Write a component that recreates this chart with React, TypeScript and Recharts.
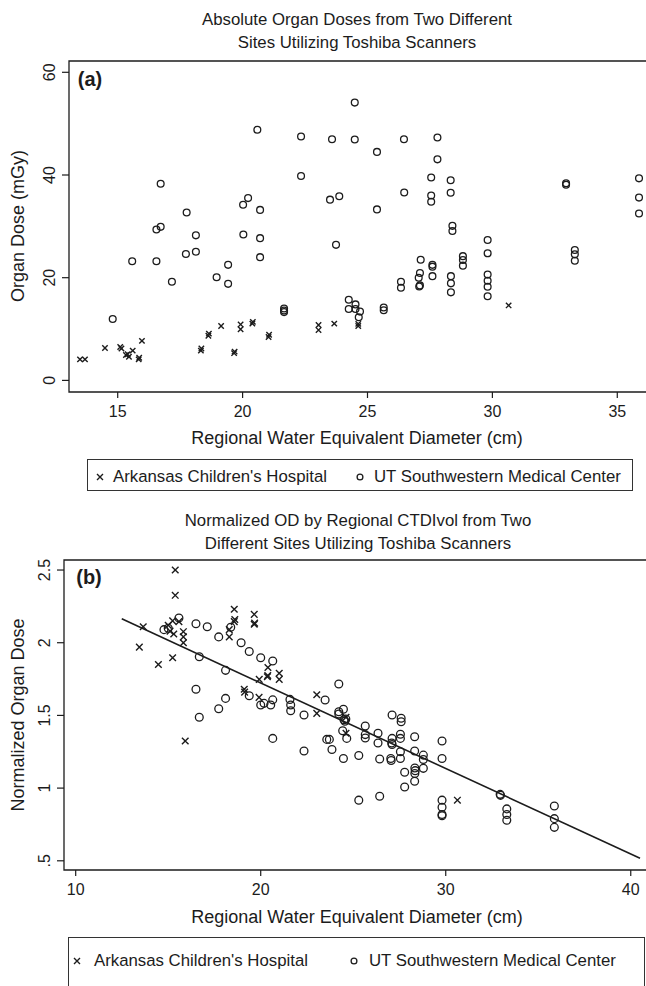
import React from 'react';
import { ScatterChart, Scatter, XAxis, YAxis, ReferenceArea } from 'recharts';

const FONT = '"Liberation Sans", Arial, Helvetica, sans-serif';
const INK = '#1c1c1c';

// ---------- Panel (a) ----------
const titleA = ['Absolute Organ Doses from Two Different', 'Sites Utilizing Toshiba Scanners'];
const xTitle = 'Regional Water Equivalent Diameter (cm)';
const yTitleA = 'Organ Dose (mGy)';
const xTicksA = [15, 20, 25, 30, 35];
const yTicksA = [0, 20, 40, 60];
const yTickLabelsA = ['0', '20', '40', '60'];
const xDomainA: [number, number] = [13.05, 36.31];
const yDomainA: [number, number] = [-2.26, 62.2];

const seriesNames = ["Arkansas Children's Hospital", 'UT Southwestern Medical Center'];

const arkansasA: [number, number][] = [
  [13.49, 4.1], [13.69, 4.1], [14.49, 6.3], [15.1, 6.5], [15.15, 6.2], [15.33, 4.95], [15.4, 5.1],
  [15.45, 4.6], [15.6, 5.8], [15.84, 4.1], [15.86, 4.4], [15.97, 7.7], [18.33, 5.8], [18.35, 6.2],
  [18.63, 8.7], [18.65, 9.1], [19.14, 10.6], [19.66, 5.3], [19.68, 5.6], [19.92, 10.9], [19.92, 9.95],
  [20.39, 11.05], [20.41, 11.4], [21.04, 8.45], [21.06, 8.9], [23.04, 10.8], [23.04, 9.8],
  [23.67, 11.05], [24.63, 11.0], [24.63, 10.6], [30.65, 14.6],
];

const utswA: [number, number][] = [
  [14.8, 11.95], [15.58, 23.2], [16.55, 23.2], [16.55, 29.4], [16.72, 29.9], [16.72, 38.3],
  [17.17, 19.2], [17.73, 24.6], [17.76, 32.7], [18.13, 25.05], [18.13, 28.25], [18.96, 20.1],
  [19.42, 22.5], [19.42, 18.8], [20.02, 34.2], [20.22, 35.5], [20.03, 28.4], [20.59, 48.8],
  [20.7, 33.2], [20.7, 27.7], [20.7, 24.0], [21.66, 14.0], [21.66, 13.6], [21.66, 13.3],
  [22.34, 47.5], [22.34, 39.8], [23.5, 35.2], [23.58, 46.95], [23.74, 26.4], [23.87, 35.85],
  [24.25, 15.7], [24.25, 13.9], [24.49, 54.1], [24.49, 46.9], [24.52, 14.8], [24.52, 13.9],
  [24.7, 13.4], [24.65, 12.3], [25.38, 44.5], [25.38, 33.3], [25.65, 14.2], [25.65, 13.65],
  [26.34, 19.2], [26.34, 18.05], [26.46, 46.95], [26.47, 36.6], [27.07, 18.3], [27.1, 18.5],
  [27.05, 20.0], [27.1, 20.9], [27.13, 23.5], [27.55, 39.5], [27.55, 36.0], [27.55, 34.8],
  [27.6, 22.5], [27.6, 22.15], [27.6, 20.3], [27.8, 47.3], [27.8, 43.05], [28.33, 38.97],
  [28.33, 36.55], [28.34, 20.3], [28.34, 18.9], [28.34, 17.15], [28.4, 30.1], [28.4, 29.1],
  [28.82, 24.2], [28.82, 23.45], [28.82, 22.35], [29.81, 27.35], [29.81, 24.75], [29.81, 20.6],
  [29.81, 19.4], [29.81, 18.25], [29.81, 16.4], [32.95, 38.4], [32.95, 38.1], [33.3, 25.4],
  [33.3, 24.55], [33.3, 23.3], [35.87, 39.35], [35.87, 35.6], [35.87, 32.5],
];

// ---------- Panel (b) ----------
const titleB = ['Normalized OD by Regional CTDIvol from Two', 'Different Sites Utilizing Toshiba Scanners'];
const yTitleB = 'Normalized Organ Dose';
const xTicksB = [10, 20, 30, 40];
const yTicksB = [0.5, 1, 1.5, 2, 2.5];
const yTickLabelsB = ['.5', '1', '1.5', '2', '2.5'];
const xDomainB: [number, number] = [9.368, 41.04];
const yDomainB: [number, number] = [0.4367, 2.569];

const arkansasB: [number, number][] = [
  [13.44, 1.97], [13.65, 2.11], [14.47, 1.85], [15.0, 2.12], [15.1, 2.08], [15.24, 2.15],
  [15.24, 1.897], [15.3, 2.06], [15.38, 2.5], [15.38, 2.326], [15.58, 2.145], [15.82, 2.076],
  [15.82, 2.04], [15.82, 2.0], [15.92, 1.324], [18.3, 2.09], [18.3, 2.04], [18.57, 2.23],
  [18.57, 2.145], [18.6, 2.16], [19.11, 1.68], [19.13, 1.66], [19.65, 2.195], [19.65, 2.127],
  [19.67, 2.135], [19.91, 1.624], [19.92, 1.748], [20.36, 1.766], [20.38, 1.775], [20.39, 1.83],
  [21.0, 1.79], [21.0, 1.748], [23.03, 1.642], [23.03, 1.514], [24.61, 1.487], [24.61, 1.377],
  [30.63, 0.917],
];

const utswB: [number, number][] = [
  [14.77, 2.09], [15.0, 2.1], [15.58, 2.17], [16.5, 2.13], [16.5, 1.68], [16.68, 1.904],
  [16.68, 1.487], [17.11, 2.11], [17.73, 2.04], [17.73, 1.546], [18.1, 1.81], [18.1, 1.617],
  [18.38, 2.106], [18.94, 2.0], [19.38, 1.94], [19.38, 1.635], [20.0, 1.897], [20.0, 1.572],
  [20.18, 1.583], [20.54, 1.572], [20.65, 1.874], [20.65, 1.607], [20.65, 1.342], [21.58, 1.61],
  [21.62, 1.572], [21.62, 1.532], [22.34, 1.503], [22.34, 1.255], [23.48, 1.606], [23.57, 1.335],
  [23.71, 1.335], [23.85, 1.266], [24.22, 1.716], [24.22, 1.525], [24.22, 1.51], [24.47, 1.542],
  [24.5, 1.47], [24.55, 1.46], [24.6, 1.475], [24.43, 1.395], [24.65, 1.342], [24.47, 1.204],
  [25.3, 1.224], [25.3, 0.917], [25.65, 1.427], [25.65, 1.368], [25.65, 1.345], [26.34, 1.377],
  [26.34, 1.31], [26.43, 1.2], [26.43, 0.944], [27.1, 1.503], [27.1, 1.342], [27.08, 1.31],
  [27.1, 1.3], [27.03, 1.204], [27.05, 1.19], [27.59, 1.48], [27.59, 1.456], [27.55, 1.37],
  [27.55, 1.342], [27.55, 1.25], [27.55, 1.204], [27.78, 1.109], [27.78, 1.008], [28.32, 1.353],
  [28.32, 1.255], [28.33, 1.138], [28.35, 1.12], [28.33, 1.1], [28.32, 1.047], [28.79, 1.227],
  [28.79, 1.197], [28.79, 1.136], [29.8, 1.324], [29.8, 1.204], [29.8, 0.917], [29.8, 0.868],
  [29.8, 0.818], [29.8, 0.81], [32.94, 0.957], [32.96, 0.95], [33.3, 0.857], [33.3, 0.818],
  [33.3, 0.779], [35.87, 0.877], [35.87, 0.79], [35.87, 0.73],
];

// fitted regression line end points
const fitLineB: [number, number][] = [[12.49, 2.165], [40.5, 0.517]];

const toPts = (arr: [number, number][]) => arr.map(([x, y]) => ({ x, y }));

const circleShape = (r: number) => (p: any) =>
  <circle cx={p.cx} cy={p.cy} r={r} fill="none" stroke={INK} strokeWidth={1.3} />;
const crossShape = (s: number) => (p: any) =>
  <path d={`M${p.cx - s},${p.cy - s}L${p.cx + s},${p.cy + s}M${p.cx - s},${p.cy + s}L${p.cx + s},${p.cy - s}`}
    stroke={INK} strokeWidth={1.4} fill="none" />;

const makeYTick = (cx: number, ticks: number[], labels: string[]) => (p: any) => {
  const i = ticks.indexOf(p.payload.value);
  return (
    <text x={cx} y={p.y} transform={`rotate(-90 ${cx} ${p.y})`} textAnchor="middle"
      dominantBaseline="central" fontSize={16} fill={INK} fontFamily={FONT}>
      {i >= 0 ? labels[i] : String(p.payload.value)}
    </text>
  );
};

const Txt = ({ cx, cy, size, children, bold, width = 600, rotate }: any) => (
  <div style={{
    position: 'absolute', left: cx - width / 2, top: cy - size / 2, width, height: size,
    lineHeight: `${size}px`, fontSize: size, fontFamily: FONT, color: INK, textAlign: 'center',
    fontWeight: bold ? 'bold' : 'normal', whiteSpace: 'nowrap',
    transform: rotate ? `rotate(${rotate}deg)` : undefined,
  }}>{children}</div>
);

const LegendBox = ({ left, top, width, height, textY, crossX, arkX, circX, utX }: any) => (
  <div style={{ position: 'absolute', left, top, width, height, border: '1px solid #333', boxSizing: 'border-box' }}>
    <svg style={{ position: 'absolute', left: 0, top: 0 }} width={width} height={height}>
      <path d={`M${crossX - 3},${textY - 3}L${crossX + 3},${textY + 3}M${crossX - 3},${textY + 3}L${crossX + 3},${textY - 3}`}
        stroke={INK} strokeWidth={1.4} />
      <circle cx={circX} cy={textY} r={2.9} fill="none" stroke={INK} strokeWidth={1.3} />
    </svg>
    <div style={{ position: 'absolute', left: arkX, top: textY - 9, lineHeight: '18px', fontSize: 16.8, fontFamily: FONT, color: INK, whiteSpace: 'nowrap' }}>{seriesNames[0]}</div>
    <div style={{ position: 'absolute', left: utX, top: textY - 9, lineHeight: '18px', fontSize: 16.8, fontFamily: FONT, color: INK, whiteSpace: 'nowrap' }}>{seriesNames[1]}</div>
  </div>
);

const tickStyle = { fill: INK, fontSize: 16, fontFamily: FONT };
const tickLineStyle = { stroke: INK, strokeWidth: 1.2 };

export default function App() {
  return (
    <div style={{ position: 'absolute', left: 0, top: 0, width: 646, height: 986, overflow: 'hidden', background: '#fff' }}>
      {/* Panel (a) */}
      <div style={{ position: 'absolute', left: 0, top: 0 }}>
        <ScatterChart width={650} height={452} margin={{ top: 61, right: 0, bottom: 0, left: 9 }}>
          <XAxis type="number" dataKey="x" domain={xDomainA} ticks={xTicksA} allowDataOverflow
            axisLine={false} tickLine={tickLineStyle} tickSize={6} tickMargin={8} tick={tickStyle} height={60} />
          <YAxis type="number" dataKey="y" domain={yDomainA} ticks={yTicksA} allowDataOverflow width={60}
            axisLine={false} tickLine={tickLineStyle} tickSize={7} tick={makeYTick(50, yTicksA, yTickLabelsA)} />
          <ReferenceArea x1={xDomainA[0]} x2={xDomainA[1]} y1={yDomainA[0]} y2={yDomainA[1]}
            stroke={INK} strokeWidth={1.3} fill="none" fillOpacity={0} ifOverflow="visible" />
          <Scatter name={seriesNames[0]} data={toPts(arkansasA)} shape={crossShape(2.7)} isAnimationActive={false} />
          <Scatter name={seriesNames[1]} data={toPts(utswA)} shape={circleShape(3.4)} isAnimationActive={false} />
        </ScatterChart>
      </div>
      <Txt cx={357} cy={20} size={16.8}>{titleA[0]}</Txt>
      <Txt cx={357} cy={43} size={16.8}>{titleA[1]}</Txt>
      <Txt cx={90} cy={79} size={20} bold width={40}>(a)</Txt>
      <Txt cx={357} cy={438} size={18}>{xTitle}</Txt>
      <Txt cx={18} cy={226} size={18} width={300} rotate={-90}>{yTitleA}</Txt>
      <LegendBox left={87} top={459} width={546} height={32} textY={17} crossX={12} arkX={25} circX={272} utX={286} />

      {/* Panel (b) */}
      <div style={{ position: 'absolute', left: 0, top: 500 }}>
        <ScatterChart width={650} height={430} margin={{ top: 60, right: 0, bottom: 0, left: 4 }}>
          <XAxis type="number" dataKey="x" domain={xDomainB} ticks={xTicksB} allowDataOverflow
            axisLine={false} tickLine={tickLineStyle} tickSize={6} tickMargin={8} tick={tickStyle} height={60} />
          <YAxis type="number" dataKey="y" domain={yDomainB} ticks={yTicksB} allowDataOverflow width={60}
            axisLine={false} tickLine={tickLineStyle} tickSize={7} tick={makeYTick(45, yTicksB, yTickLabelsB)} />
          <ReferenceArea x1={xDomainB[0]} x2={xDomainB[1]} y1={yDomainB[0]} y2={yDomainB[1]}
            stroke={INK} strokeWidth={1.3} fill="none" fillOpacity={0} ifOverflow="visible" />
          <Scatter name="fit" data={toPts(fitLineB)} line={{ stroke: INK, strokeWidth: 1.6 }}
            shape={() => <g />} legendType="none" isAnimationActive={false} />
          <Scatter name={seriesNames[0]} data={toPts(arkansasB)} shape={crossShape(3.3)} isAnimationActive={false} />
          <Scatter name={seriesNames[1]} data={toPts(utswB)} shape={circleShape(3.9)} isAnimationActive={false} />
        </ScatterChart>
      </div>
      <Txt cx={358} cy={521} size={16.8}>{titleB[0]}</Txt>
      <Txt cx={358} cy={544} size={16.8}>{titleB[1]}</Txt>
      <Txt cx={89} cy={577} size={20} bold width={40}>(b)</Txt>
      <Txt cx={357} cy={917} size={18}>{xTitle}</Txt>
      <Txt cx={18} cy={715} size={18} width={300} rotate={-90}>{yTitleB}</Txt>
      <LegendBox left={68} top={937} width={577} height={70} textY={23} crossX={8} arkX={25} circX={285} utX={300} />
    </div>
  );
}
